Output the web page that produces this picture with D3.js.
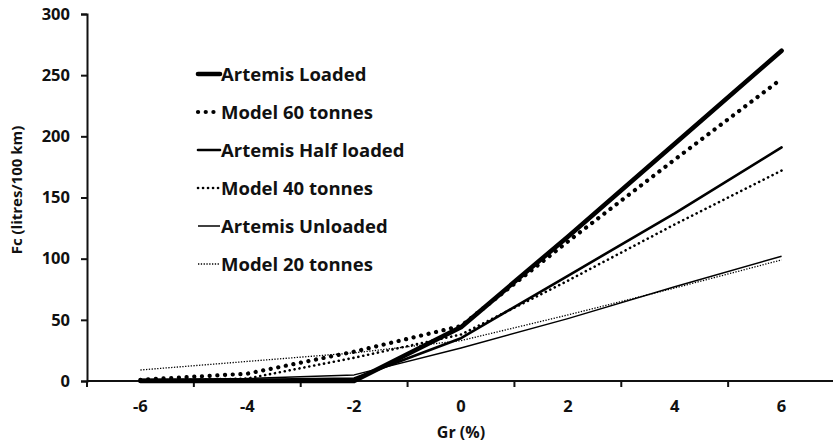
<!DOCTYPE html>
<html><head><meta charset="utf-8">
<script src="https://cdn.jsdelivr.net/npm/d3@7/dist/d3.min.js"></script>
<style>body{margin:0;background:#fff}svg{display:block}text{font-family:"Open Sans",sans-serif;font-weight:bold;fill:#111}</style>
</head><body><svg id="c" width="833" height="445"></svg>
<script>
const categories = ["-6","-4","-2","0","2","4","6"];
const yTicks = [0,50,100,150,200,250,300];
const seriesNames = ["Artemis Loaded","Model 60 tonnes","Artemis Half loaded","Model 40 tonnes","Artemis Unloaded","Model 20 tonnes"];
const artemisLoaded = [0,0,0,44,118,194,270];
const model60 = [1,6,24,45,114,181,247];
const artemisHalf = [1,1,2,35,86,137,191];
const model40 = [0,2,19,38,82,128,172];
const artemisUnloaded = [1,2,5,27,51,77,102];
const model20 = [9,16,23,33,54,76,99];

const values = [artemisLoaded, model60, artemisHalf, model40, artemisUnloaded, model20];
const styles = [
  {w:4.6, dash:null, cap:"round"},
  {w:4.2, dash:"0.1 7.6", cap:"round"},
  {w:2.6, dash:null, cap:"round"},
  {w:2.6, dash:"0.1 4.9", cap:"round"},
  {w:1.5, dash:null, cap:"butt"},
  {w:1.3, dash:"1.3 1.5", cap:"butt"}
];

const svg = d3.select("#c");
const x = d3.scaleBand().domain(categories).range([87, 835]).paddingInner(0).paddingOuter(0);
const y = d3.scaleLinear().domain([0,300]).range([381, 14]);
const xc = d => x(d) + x.bandwidth()/2;

// axes
const ya = svg.append("g").attr("transform","translate(87,0)")
  .call(d3.axisLeft(y).tickValues(yTicks).tickSize(6).tickPadding(11));
const xa = svg.append("g").attr("transform","translate(0,381)")
  .call(d3.axisBottom(x).tickSize(0).tickPadding(26));
[ya,xa].forEach(a=>{a.select(".domain").attr("stroke","#111").attr("stroke-width",2);
  a.selectAll(".tick line").attr("stroke","#111").attr("stroke-width",2);
  a.selectAll("text").style("font-size","16.5px").style("font-family","'Open Sans',sans-serif").style("font-weight","bold").attr("fill","#111");});
xa.select(".domain").attr("d","M87,0H833");
// category boundary ticks
const bounds = categories.map(c=>x(c)).concat([x(categories[categories.length-1])+x.bandwidth()]);
xa.selectAll(".btick").data(bounds).join("line").attr("class","btick")
  .attr("x1",d=>d).attr("x2",d=>d).attr("y1",0).attr("y2",6).attr("stroke","#111").attr("stroke-width",2);
xa.selectAll(".tick text").attr("dy","0.32em");

// lines
const line = d3.line().x((d,i)=>xc(categories[i])).y(d=>y(d));
values.forEach((v,k)=>{
  const s = styles[k];
  svg.append("path").attr("d", line(v)).attr("fill","none").attr("stroke","#000")
    .attr("stroke-width", s.w).attr("stroke-linecap", s.cap).attr("stroke-linejoin","round")
    .attr("stroke-dasharray", s.dash);
});

// legend
const lg = svg.append("g");
seriesNames.forEach((n,k)=>{
  const yy = 74 + k*38;
  const s = styles[k];
  lg.append("line").attr("x1",198).attr("x2",220).attr("y1",yy).attr("y2",yy)
    .attr("stroke","#000").attr("stroke-width",s.w).attr("stroke-linecap",s.cap).attr("stroke-dasharray",s.dash);
  lg.append("text").attr("x",221).attr("y",yy).attr("dy","0.36em").style("font-size","18.5px").text(n);
});

// titles
svg.append("text").attr("x",461).attr("y",438).attr("text-anchor","middle").style("font-size","16px").text("Gr (%)");
svg.append("text").attr("transform","translate(22,190) rotate(-90)").attr("text-anchor","middle").style("font-size","15px").text("Fc (litres/100 km)");
</script></body></html>
